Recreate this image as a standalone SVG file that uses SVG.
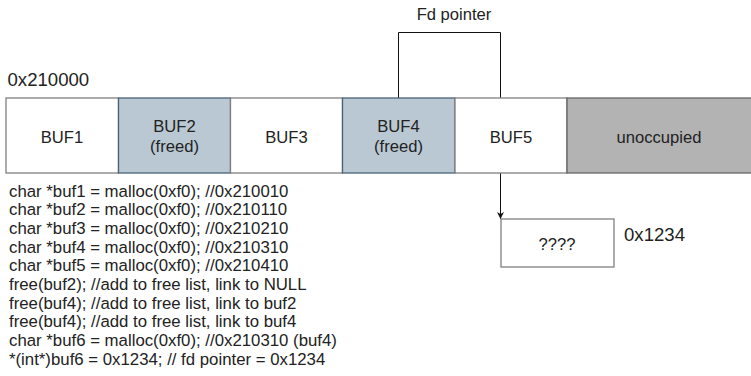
<svg xmlns="http://www.w3.org/2000/svg" width="751" height="376" viewBox="0 0 751 376">
<style>
text { font-family: "Liberation Sans", Arial, sans-serif; fill: #222; }
.lbl { font-size: 16.6px; text-anchor: middle; }
.big { font-size: 18.6px; }
.code { font-size: 16.8px; }
.white { fill: #ffffff; stroke: #808080; stroke-width: 1.3; }
.freed { fill: #bac8d3; stroke: #4a6375; stroke-width: 1.3; }
.unocc { fill: #b3b3b3; stroke: #666666; stroke-width: 1.3; }
.conn { fill: none; stroke: #111; stroke-width: 1; }
</style>
<defs>
<marker id="arrow" viewBox="0 0 10 10" refX="10" refY="5" markerWidth="7" markerHeight="7" orient="auto" markerUnits="userSpaceOnUse">
<path d="M0,0 L10,5 L0,10 L3,5 z" fill="#111"/>
</marker>
</defs>
<rect width="751" height="376" fill="#ffffff"/>
<g id="connectors">
<path class="conn" d="M398.5,98 V32.5 H500.5 V219" marker-end="url(#arrow)"/>
</g>
<text class="big" x="7.5" y="86">0x210000</text>
<text class="lbl" x="454" y="20">Fd pointer</text>
<g id="buf1"><rect class="white" x="6" y="98" width="112.5" height="75"/><text class="lbl" x="62" y="142.5">BUF1</text></g>
<g id="buf2"><rect class="freed" x="118.5" y="98" width="112" height="75"/><text class="lbl" x="174.5" y="132">BUF2</text><text class="lbl" x="174.5" y="151.7">(freed)</text></g>
<g id="buf3"><rect class="white" x="230.5" y="98" width="112" height="75"/><text class="lbl" x="286.5" y="142.5">BUF3</text></g>
<g id="buf4"><rect class="freed" x="342.5" y="98" width="112.5" height="75"/><text class="lbl" x="398.5" y="132">BUF4</text><text class="lbl" x="398.5" y="151.7">(freed)</text></g>
<g id="buf5"><rect class="white" x="455" y="98" width="112" height="75"/><text class="lbl" x="511" y="142.5">BUF5</text></g>
<g id="unoccupied"><rect class="unocc" x="567" y="98" width="200" height="75"/><text class="lbl" x="659" y="142.5">unoccupied</text></g>
<g id="target"><rect class="white" x="501" y="219" width="113" height="48"/><text class="lbl" x="557" y="249.5">????</text></g>
<text class="big" x="624" y="240.5">0x1234</text>
<g id="code" class="code">
<text x="9" y="196.5">char *buf1 = malloc(0xf0); //0x210010</text>
<text x="9" y="215.2">char *buf2 = malloc(0xf0); //0x210110</text>
<text x="9" y="233.9">char *buf3 = malloc(0xf0); //0x210210</text>
<text x="9" y="252.6">char *buf4 = malloc(0xf0); //0x210310</text>
<text x="9" y="271.3">char *buf5 = malloc(0xf0); //0x210410</text>
<text x="9" y="290">free(buf2); //add to free list, link to NULL</text>
<text x="9" y="308.7">free(buf4); //add to free list, link to buf2</text>
<text x="9" y="327.4">free(buf4); //add to free list, link to buf4</text>
<text x="9" y="346.1">char *buf6 = malloc(0xf0); //0x210310 (buf4)</text>
<text x="9" y="364.8">*(int*)buf6 = 0x1234; // fd pointer = 0x1234</text>
</g>
</svg>
